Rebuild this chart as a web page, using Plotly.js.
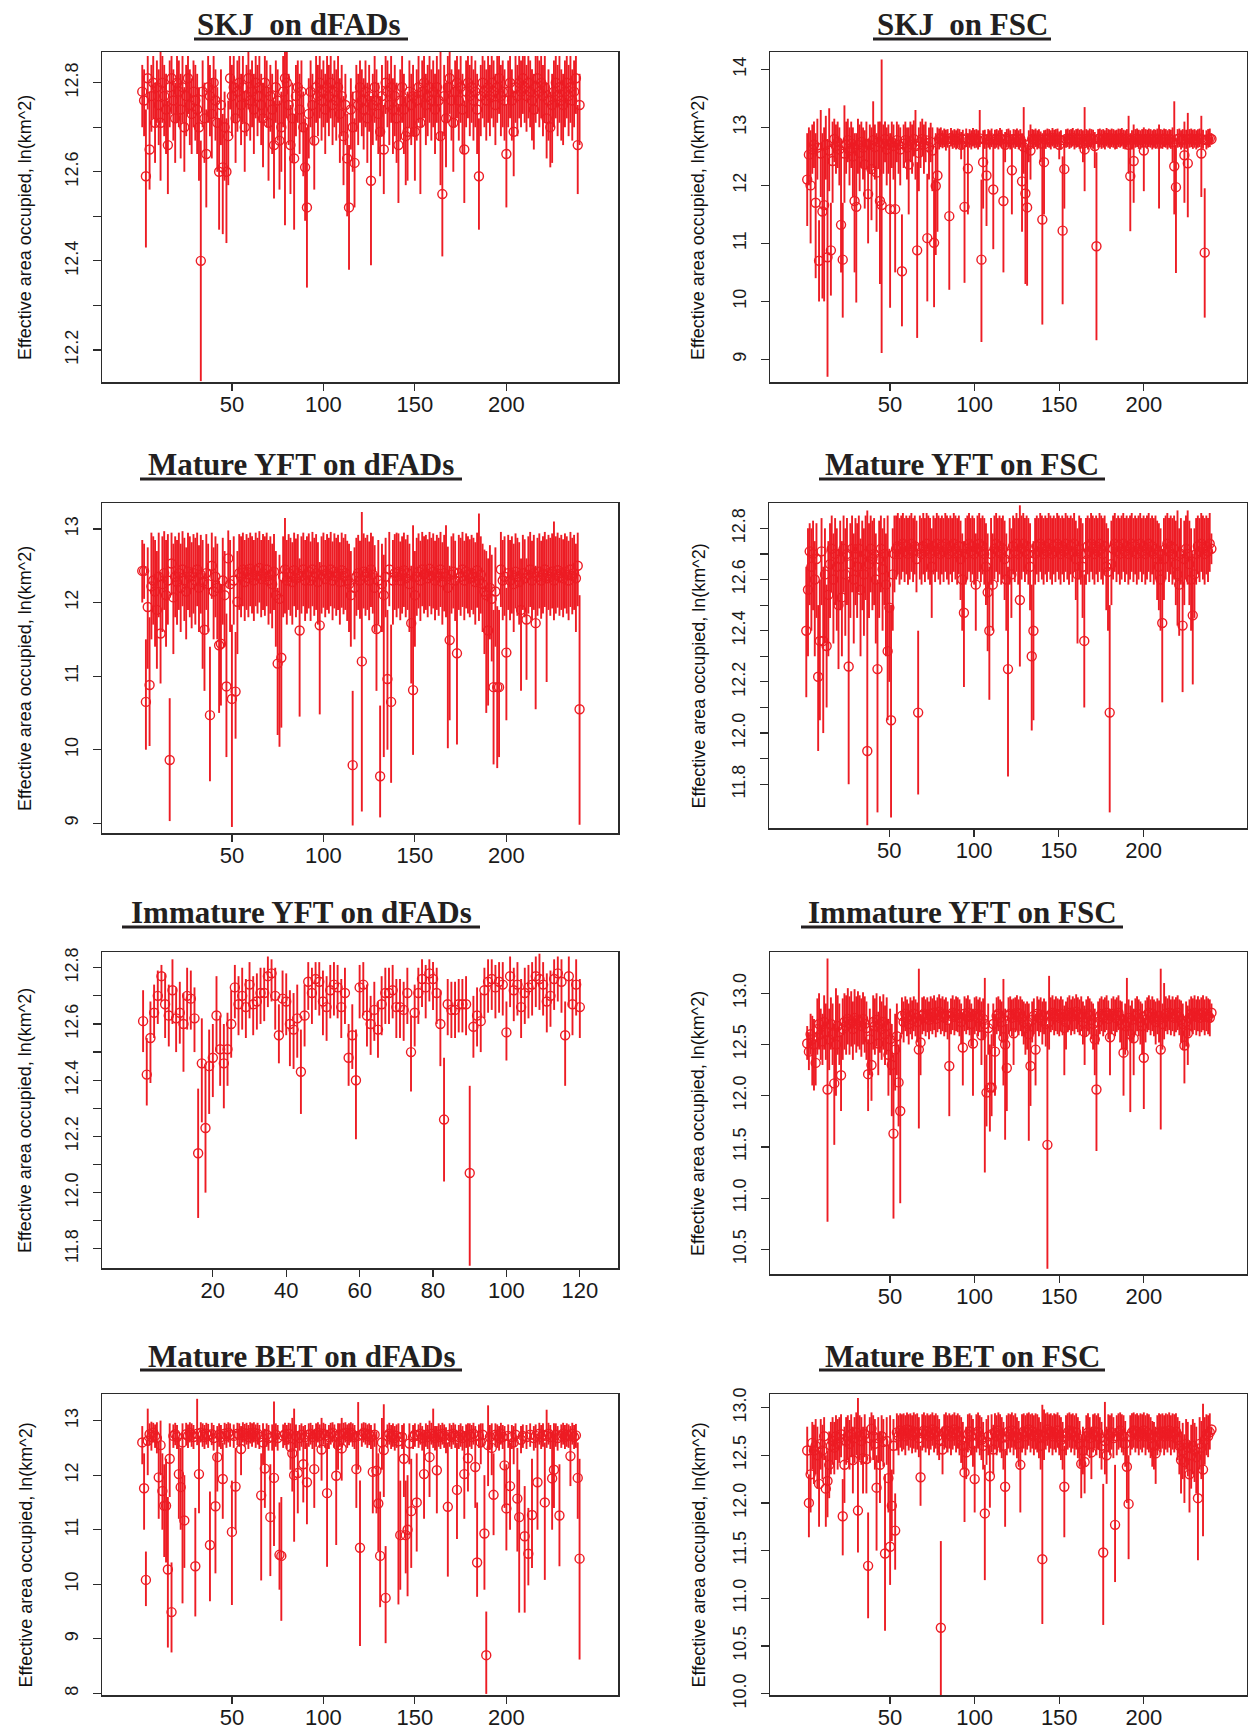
<!DOCTYPE html>
<html><head><meta charset="utf-8">
<script src="https://cdn.plot.ly/plotly-3.0.1.min.js"></script>
<style>html,body{margin:0;padding:0;background:#fff}#chart{width:1248px;height:1731px}</style>
</head><body><div id="chart"></div>
<script>
// ---------- SKJ on dFADs ----------
const skjDfadMean=[12.78,12.76,12.59,12.81,12.65,12.77,12.80,12.71,12.79,12.75,
12.71,12.80,12.77,12.74,12.66,12.79,12.81,12.76,12.72,12.80,
12.78,12.74,12.79,12.70,12.77,12.81,12.75,12.73,12.78,12.76,
12.74,12.70,12.40,12.78,12.72,12.64,12.79,12.77,12.73,12.80,
12.76,12.71,12.60,12.75,12.61,12.70,12.60,12.68,12.81,12.77,
12.79,12.72,12.78,12.80,12.75,12.79,12.70,12.77,12.81,12.76,
12.78,12.74,12.80,12.77,12.79,12.75,12.72,12.80,12.78,12.71,
12.77,12.74,12.66,12.79,12.76,12.67,12.70,12.78,12.81,12.80,
12.75,12.66,12.72,12.63,12.77,12.79,12.74,12.78,12.70,12.61,
12.52,12.73,12.78,12.75,12.67,12.79,12.77,12.80,12.76,12.78,
12.74,12.79,12.77,12.80,12.75,12.78,12.76,12.79,12.73,12.77,
12.68,12.75,12.63,12.52,12.74,12.70,12.62,12.77,12.75,12.79,
12.76,12.74,12.78,12.72,12.77,12.58,12.75,12.79,12.76,12.73,
12.69,12.77,12.65,12.80,12.78,12.75,12.79,12.74,12.77,12.72,
12.66,12.76,12.79,12.74,12.68,12.69,12.78,12.75,12.77,12.69,
12.76,12.79,12.71,12.78,12.80,12.75,12.77,12.79,12.76,12.78,
12.74,12.79,12.76,12.68,12.55,12.77,12.72,12.79,12.81,12.76,
12.71,12.78,12.80,12.76,12.79,12.74,12.65,12.78,12.80,12.77,
12.79,12.76,12.78,12.74,12.59,12.77,12.80,12.78,12.76,12.79,
12.77,12.80,12.78,12.75,12.79,12.81,12.77,12.78,12.76,12.64,
12.78,12.80,12.76,12.69,12.79,12.77,12.80,12.78,12.81,12.79,
12.77,12.80,12.78,12.76,12.74,12.79,12.81,12.78,12.80,12.77,
12.79,12.72,12.76,12.70,12.75,12.78,12.80,12.77,12.79,12.76,
12.75,12.78,12.80,12.77,12.79,12.76,12.78,12.81,12.66,12.75];
const skjDfadHi=[12.84,12.83,12.74,12.86,12.78,12.84,12.86,12.80,12.85,12.83,
12.87,12.86,12.84,12.82,12.76,12.85,12.86,12.83,12.80,12.86,
12.85,12.82,12.86,12.79,12.84,12.86,12.83,12.81,12.85,12.84,
12.82,12.79,12.67,12.85,12.80,12.74,12.86,12.84,12.81,12.86,
12.83,12.79,12.72,12.83,12.73,12.78,12.72,12.76,12.86,12.84,
12.86,12.80,12.85,12.86,12.82,12.86,12.78,12.84,12.87,12.83,
12.85,12.82,12.86,12.84,12.86,12.82,12.80,12.86,12.85,12.79,
12.84,12.82,12.76,12.85,12.83,12.76,12.78,12.86,12.87,12.87,
12.82,12.75,12.80,12.73,12.84,12.85,12.82,12.85,12.78,12.72,
12.70,12.81,12.85,12.82,12.76,12.86,12.84,12.86,12.83,12.85,
12.82,12.86,12.84,12.86,12.82,12.85,12.83,12.86,12.81,12.84,
12.77,12.82,12.73,12.66,12.81,12.78,12.72,12.84,12.82,12.85,
12.83,12.81,12.85,12.80,12.84,12.77,12.82,12.86,12.83,12.80,
12.77,12.84,12.75,12.86,12.85,12.82,12.86,12.81,12.84,12.80,
12.75,12.83,12.86,12.82,12.77,12.78,12.85,12.82,12.84,12.78,
12.83,12.86,12.79,12.85,12.86,12.82,12.84,12.86,12.83,12.85,
12.82,12.86,12.83,12.87,12.69,12.84,12.80,12.86,12.87,12.83,
12.79,12.85,12.86,12.83,12.86,12.82,12.76,12.85,12.86,12.84,
12.86,12.83,12.85,12.82,12.72,12.84,12.86,12.85,12.83,12.86,
12.84,12.86,12.85,12.82,12.86,12.86,12.84,12.85,12.83,12.75,
12.85,12.86,12.83,12.78,12.86,12.84,12.86,12.85,12.86,12.86,
12.84,12.86,12.85,12.83,12.82,12.86,12.86,12.85,12.86,12.84,
12.86,12.80,12.83,12.78,12.82,12.85,12.86,12.84,12.86,12.83,
12.82,12.85,12.86,12.84,12.86,12.83,12.85,12.86,12.75,12.82];
const skjDfadLo=[12.70,12.68,12.43,12.74,12.56,12.69,12.72,12.62,12.71,12.66,
12.58,12.71,12.68,12.64,12.55,12.70,12.73,12.67,12.62,12.71,
12.70,12.63,12.71,12.60,12.68,12.73,12.66,12.64,12.70,12.67,
12.64,12.58,12.13,12.70,12.62,12.52,12.71,12.68,12.63,12.72,
12.67,12.60,12.47,12.66,12.46,12.58,12.44,12.57,12.74,12.68,
12.71,12.62,12.69,12.72,12.66,12.71,12.60,12.68,12.74,12.67,
12.70,12.64,12.72,12.68,12.71,12.66,12.61,12.72,12.70,12.58,
12.69,12.64,12.54,12.71,12.67,12.56,12.60,12.70,12.48,12.72,
12.66,12.55,12.62,12.47,12.68,12.71,12.64,12.69,12.59,12.49,
12.34,12.63,12.70,12.66,12.56,12.71,12.68,12.72,12.67,12.70,
12.64,12.71,12.68,12.72,12.66,12.70,12.67,12.71,12.62,12.68,
12.57,12.66,12.50,12.38,12.65,12.60,12.52,12.69,12.66,12.71,
12.68,12.65,12.70,12.62,12.69,12.39,12.66,12.71,12.67,12.64,
12.59,12.68,12.55,12.73,12.70,12.66,12.71,12.64,12.68,12.62,
12.53,12.67,12.71,12.64,12.57,12.58,12.70,12.66,12.68,12.58,
12.67,12.71,12.55,12.70,12.72,12.66,12.68,12.71,12.67,12.70,
12.64,12.71,12.67,12.57,12.41,12.68,12.61,12.71,12.73,12.67,
12.60,12.70,12.72,12.67,12.71,12.64,12.53,12.70,12.72,12.68,
12.71,12.67,12.70,12.64,12.47,12.68,12.72,12.70,12.67,12.71,
12.68,12.72,12.70,12.66,12.71,12.73,12.68,12.70,12.67,12.52,
12.70,12.72,12.67,12.59,12.71,12.68,12.72,12.70,12.73,12.71,
12.69,12.72,12.70,12.67,12.65,12.71,12.73,12.70,12.72,12.68,
12.71,12.63,12.67,12.61,12.62,12.70,12.72,12.68,12.71,12.67,
12.66,12.70,12.72,12.68,12.71,12.67,12.70,12.73,12.55,12.66];

// ---------- SKJ on FSC ----------
const skjFscMean=[12.10,12.53,12.00,12.62,12.70,11.70,12.65,10.70,12.55,11.55,
11.66,12.70,10.76,12.60,10.88,12.42,12.80,12.68,12.75,12.62,
11.32,10.72,12.55,12.70,12.78,12.60,12.72,12.50,11.73,11.63,
12.70,12.56,12.75,12.65,12.36,12.72,11.85,12.70,12.28,12.78,
12.66,12.22,12.75,11.73,11.66,12.72,12.80,12.62,12.70,11.59,
12.75,12.68,11.59,12.78,12.70,12.62,10.52,12.72,12.78,12.65,
12.36,12.76,12.70,12.80,12.68,10.88,12.56,12.75,12.80,12.70,
12.78,11.09,12.66,12.75,12.60,11.01,11.99,12.17,12.80,12.82,
12.79,12.81,12.78,12.80,11.47,12.82,12.79,12.80,12.78,12.81,
12.80,12.70,12.79,11.63,12.81,12.29,12.80,12.78,12.82,12.79,
12.80,12.78,12.81,10.72,12.40,12.79,12.17,12.80,12.78,12.81,
11.93,12.79,12.80,12.78,12.82,12.79,11.73,12.70,12.80,12.81,
12.78,12.26,12.80,12.79,12.81,12.78,12.80,12.07,12.66,11.86,
11.62,12.70,12.60,12.80,12.79,12.81,12.78,12.80,12.72,11.41,
12.40,12.79,12.81,12.80,12.78,12.82,12.79,12.80,12.81,12.70,
12.78,11.22,12.28,12.80,12.81,12.79,12.80,12.82,12.78,12.80,
12.81,12.79,12.80,12.72,12.62,12.80,12.78,12.81,12.80,12.79,
12.68,10.95,12.80,12.81,12.79,12.80,12.78,12.82,12.80,12.79,
12.81,12.80,12.78,12.79,12.81,12.80,12.82,12.79,12.78,12.80,
12.70,12.16,12.78,12.42,12.80,12.81,12.79,12.78,12.80,12.60,
12.80,12.79,12.81,12.80,12.78,12.80,12.79,12.81,12.72,12.80,
12.79,12.81,12.80,12.78,12.80,12.79,12.75,12.33,11.97,12.80,
12.81,12.78,12.80,12.52,12.79,12.38,12.80,12.81,12.79,12.80,
12.78,12.80,12.81,12.55,12.79,10.84,12.78,12.80,12.81,12.80];
const skjFscHi=[12.90,13.00,12.95,13.05,13.10,12.90,13.15,11.40,13.30,12.90,
13.00,13.20,12.80,13.33,11.70,13.10,13.15,13.05,13.10,13.00,
12.80,11.70,13.38,13.10,13.15,13.00,13.10,13.00,12.90,12.90,
13.15,13.05,13.10,13.00,12.95,13.10,12.80,13.05,13.00,13.45,
13.05,12.90,13.10,13.10,14.17,13.05,13.10,13.00,13.05,12.90,
13.10,13.05,12.80,13.10,13.05,13.00,11.50,13.05,13.10,13.00,
13.00,13.10,13.05,13.12,13.30,12.40,13.00,13.10,13.15,13.05,
13.10,12.20,13.00,13.08,13.00,12.10,12.90,13.00,12.98,13.00,
12.95,12.98,12.96,12.97,12.70,12.99,12.95,12.97,12.95,12.98,
12.97,12.92,12.96,12.70,12.98,12.90,12.97,12.95,12.99,12.96,
12.97,12.95,13.30,12.10,12.95,12.96,12.85,12.97,12.95,12.98,
12.80,12.96,12.97,12.95,12.99,12.96,12.80,12.92,12.97,12.98,
12.95,12.80,12.97,12.96,12.98,12.95,12.97,12.90,13.35,12.80,
12.70,12.95,13.05,12.97,12.96,12.98,12.95,12.97,12.93,12.90,
12.95,12.96,12.98,12.97,12.95,12.99,12.96,12.97,12.98,12.93,
12.95,12.50,12.85,12.97,12.98,12.96,12.97,12.99,12.95,12.97,
12.98,12.96,12.97,12.95,13.35,12.97,12.95,12.98,12.97,12.96,
12.92,12.57,12.97,12.98,12.96,12.97,12.95,12.99,12.97,12.96,
12.98,12.97,12.95,12.96,12.98,12.97,12.99,12.96,12.95,12.97,
13.20,12.90,12.95,13.05,12.97,12.98,12.96,12.95,12.97,13.00,
12.97,12.96,12.98,12.97,12.95,12.97,12.96,12.98,13.05,12.97,
12.96,12.98,12.97,12.95,12.97,12.96,13.00,13.45,12.70,12.97,
12.98,12.95,12.97,13.10,12.96,13.25,12.97,12.98,12.96,12.97,
12.95,12.97,12.98,13.20,12.96,11.95,12.95,12.97,12.98,12.90];
const skjFscLo=[11.30,12.00,11.00,12.20,12.30,10.40,12.10,10.00,11.80,10.05,
10.00,12.10,8.70,11.90,10.10,11.70,12.40,12.20,12.30,12.00,
10.50,9.72,11.70,12.20,12.40,12.00,12.30,11.80,10.50,9.98,
12.20,11.90,12.30,12.10,11.60,12.30,11.00,12.20,11.40,12.30,
12.10,11.20,12.30,10.30,9.11,12.20,12.40,12.00,12.20,9.89,
12.30,12.10,10.50,12.40,12.20,12.00,9.57,12.30,12.40,12.10,
11.50,12.40,12.20,12.50,12.10,9.37,11.90,12.30,12.50,12.20,
12.40,10.00,12.10,12.40,11.90,9.90,10.80,11.20,12.62,12.66,
12.64,12.66,12.60,12.65,10.20,12.67,12.63,12.65,12.62,12.66,
12.64,12.45,12.63,10.32,12.66,11.50,12.65,12.62,12.67,12.64,
12.65,12.62,12.66,9.30,11.60,12.63,11.30,12.65,12.62,12.66,
10.90,12.63,12.65,12.62,12.67,12.64,10.50,12.40,12.65,12.66,
12.62,11.50,12.65,12.63,12.66,12.62,12.65,11.20,12.20,10.30,
10.27,12.40,12.10,12.65,12.63,12.66,12.62,12.65,12.40,9.60,
11.50,12.63,12.66,12.65,12.62,12.67,12.64,12.65,12.66,12.45,
12.62,9.95,11.60,12.65,12.66,12.63,12.65,12.67,12.62,12.65,
12.66,12.63,12.65,12.40,11.90,12.65,12.62,12.66,12.65,12.63,
12.30,9.33,12.65,12.66,12.63,12.65,12.62,12.67,12.65,12.63,
12.66,12.65,12.62,12.63,12.66,12.65,12.67,12.63,12.62,12.65,
12.20,11.21,12.62,11.70,12.65,12.66,12.63,12.62,12.65,11.90,
12.65,12.63,12.66,12.65,12.62,12.65,12.63,12.66,11.60,12.65,
12.63,12.66,12.65,12.62,12.65,12.63,12.40,11.50,10.49,12.65,
12.66,12.62,12.65,11.70,12.63,11.45,12.65,12.66,12.63,12.65,
12.62,12.65,12.66,11.80,12.63,9.72,12.62,12.65,12.66,12.70];

// ---------- Mature YFT on dFADs ----------
const myftDfadMean=[12.43,12.43,10.65,11.94,10.88,12.22,12.30,12.15,11.90,12.35,
11.58,12.25,12.40,12.10,12.30,9.86,12.53,12.07,12.35,12.28,
12.40,12.20,12.45,12.30,12.15,12.42,12.35,12.25,12.40,12.30,
12.45,12.20,12.38,12.28,11.63,12.40,12.25,10.47,12.50,12.15,
12.35,12.20,11.42,11.44,12.30,12.10,10.86,12.60,12.25,10.69,
12.30,10.79,12.01,12.40,12.35,12.45,12.28,12.42,12.33,12.46,
12.38,12.30,12.44,12.36,12.47,12.32,12.40,12.35,12.45,12.30,
12.38,12.25,12.42,12.10,11.17,12.05,11.25,12.35,12.45,12.30,
12.40,12.35,12.28,12.44,12.33,12.40,11.62,12.36,12.45,12.30,
12.38,12.42,12.30,12.45,12.35,12.40,12.28,11.69,12.38,12.44,
12.32,12.40,12.36,12.45,12.30,12.42,12.35,12.40,12.28,12.44,
12.36,12.40,12.30,12.25,12.10,9.79,12.20,12.35,12.40,12.30,
11.20,12.42,12.35,12.40,12.30,12.45,12.38,12.20,11.64,12.30,
9.64,12.25,12.10,12.35,10.96,12.45,10.65,12.30,12.40,12.35,
12.42,12.30,12.38,12.44,12.33,12.40,12.25,11.72,10.81,12.10,
12.35,12.42,12.30,12.45,12.38,12.40,12.33,12.46,12.36,12.42,
12.30,12.40,12.35,12.45,12.28,12.40,12.35,12.20,11.49,12.38,
12.42,12.30,11.31,12.40,12.35,12.45,12.30,12.42,12.38,12.33,
12.40,12.35,12.28,12.44,12.30,12.38,12.25,12.15,12.10,11.62,
12.20,12.05,10.85,12.15,10.85,10.85,12.45,12.30,12.35,11.32,
12.40,12.30,12.38,12.25,12.42,12.35,12.28,11.90,12.40,12.33,
11.77,12.38,12.45,12.30,12.40,11.72,12.35,12.42,12.30,12.38,
12.45,12.33,12.40,12.35,12.42,12.30,12.38,12.44,12.35,12.40,
12.33,12.42,12.38,12.30,12.45,12.36,12.40,12.33,12.50,10.55];
const myftDfadHi=[12.85,12.80,11.50,12.75,11.80,12.95,12.90,12.85,12.70,12.95,
12.40,12.90,12.97,12.85,12.93,10.70,12.95,12.80,12.90,12.85,
12.95,12.80,12.97,12.88,12.75,12.95,12.90,12.82,12.93,12.88,
12.95,12.78,12.92,12.85,12.40,12.93,12.80,11.40,12.95,12.75,
12.90,12.80,12.30,12.25,12.88,12.70,11.85,12.98,12.85,11.70,
12.90,11.60,12.70,12.93,12.90,12.95,12.85,12.93,12.88,12.95,
12.90,12.85,12.95,12.88,12.97,12.85,12.93,12.90,12.95,12.85,
12.90,12.80,12.93,12.70,12.20,12.65,12.30,12.90,13.15,12.85,
12.93,12.88,12.82,12.95,12.87,12.93,12.60,12.90,12.95,12.85,
12.90,12.94,12.83,12.96,12.88,12.93,12.82,12.55,12.90,12.95,
12.85,12.93,12.88,12.96,12.83,12.94,12.88,12.92,12.82,12.95,
12.88,12.93,12.84,12.80,12.70,10.80,12.75,12.88,12.92,12.84,
13.23,12.94,12.88,12.92,12.83,12.95,12.90,12.78,12.40,12.85,
10.60,12.80,12.65,12.88,11.90,12.96,11.70,12.85,12.93,12.95,
12.94,12.83,12.90,12.95,12.86,12.92,12.80,12.50,13.05,12.70,
12.88,12.94,12.84,12.96,12.90,12.92,12.86,12.96,12.88,12.94,
12.84,12.92,12.88,12.96,12.82,12.92,13.05,12.76,12.50,12.90,
12.94,12.84,12.30,12.92,12.88,12.96,12.84,12.94,12.90,12.86,
12.92,12.88,12.82,12.95,13.21,12.90,12.80,12.72,12.70,12.60,
12.78,12.65,11.90,12.75,11.95,11.90,12.96,12.85,12.90,12.20,
12.92,12.85,12.90,12.80,12.94,12.88,12.82,12.60,12.92,12.86,
12.60,12.90,12.96,12.84,12.92,12.50,12.88,12.94,12.84,12.90,
12.96,12.86,12.92,12.88,12.94,13.10,12.90,12.95,12.88,12.92,
12.86,12.94,12.90,12.84,12.96,12.88,12.92,12.80,12.95,12.10];
const myftDfadLo=[12.00,12.05,10.00,11.10,10.05,11.50,11.70,11.40,11.10,11.80,
10.90,11.60,11.90,11.40,11.70,9.03,12.10,11.30,11.80,11.70,
11.90,11.60,11.95,11.75,11.50,11.90,11.80,11.65,11.85,11.70,
11.95,11.60,11.85,11.10,10.80,11.90,11.60,9.57,12.05,11.50,
11.80,11.50,10.50,10.60,11.70,11.40,9.90,12.20,11.60,8.95,
11.70,10.15,11.30,11.90,11.80,11.95,11.75,11.90,11.80,11.95,
11.85,11.75,11.95,11.85,12.00,11.80,11.90,11.82,11.95,11.70,
11.85,11.65,11.90,11.40,10.20,10.04,10.30,11.80,11.85,11.70,
11.90,11.82,11.70,11.95,11.80,11.90,10.45,11.85,11.95,11.75,
11.85,11.92,11.75,11.95,11.82,11.90,11.70,10.48,11.85,11.93,
11.80,11.90,11.85,11.95,11.76,11.92,11.82,11.90,11.70,11.93,
11.84,11.90,11.75,11.60,11.40,8.97,11.50,11.82,11.90,11.78,
9.16,11.92,11.82,11.90,11.76,11.94,11.85,11.60,10.80,11.70,
9.08,11.60,9.90,11.80,10.00,11.95,9.55,11.70,11.90,11.80,
11.92,11.76,11.85,11.94,11.80,11.90,11.60,10.90,9.93,11.40,
11.82,11.92,11.75,11.95,11.85,11.90,11.80,11.95,11.84,11.92,
11.76,11.90,11.82,11.94,11.70,11.88,11.80,10.02,10.40,11.85,
11.92,11.75,10.07,11.90,11.82,11.94,11.76,11.92,11.85,11.80,
11.90,11.84,11.70,11.93,11.75,11.85,11.60,11.30,10.50,10.60,
11.50,11.20,9.80,11.40,9.75,9.90,11.94,11.76,11.82,10.40,
11.90,11.76,11.85,11.60,11.92,11.82,11.70,10.80,11.90,11.80,
10.95,11.85,11.94,11.76,11.90,10.55,11.82,11.92,11.78,11.85,
11.94,10.92,11.90,11.82,11.92,11.76,11.85,11.93,11.82,11.90,
11.80,11.92,11.85,11.76,11.94,11.84,11.90,11.60,11.95,8.98];

// ---------- Mature YFT on FSC ----------
const myftFscMean=[12.40,12.56,12.71,12.65,12.70,12.60,12.68,12.22,12.36,12.71,
12.36,12.62,12.34,12.54,12.66,12.72,12.60,12.70,12.65,12.50,
12.68,12.53,12.72,12.62,12.70,12.26,12.66,12.72,12.60,12.70,
12.65,12.72,12.56,12.68,12.62,12.70,11.93,12.66,12.72,12.68,
12.70,12.60,12.25,12.68,12.72,12.64,12.70,12.58,12.32,12.49,
12.05,12.62,12.70,12.72,12.73,12.70,12.72,12.74,12.71,12.73,
12.70,12.72,12.74,12.71,12.73,12.68,12.08,12.72,12.70,12.73,
12.71,12.74,12.72,12.70,12.65,12.73,12.71,12.74,12.72,12.70,
12.73,12.71,12.74,12.72,12.70,12.73,12.71,12.74,12.72,12.70,
12.73,12.68,12.60,12.47,12.70,12.72,12.74,12.71,12.73,12.70,
12.58,12.72,12.74,12.71,12.73,12.70,12.65,12.55,12.40,12.70,
12.58,12.72,12.74,12.71,12.73,12.70,12.72,12.68,12.60,12.25,
12.70,12.62,12.73,12.71,12.74,12.70,12.52,12.72,12.74,12.71,
12.73,12.70,12.65,12.30,12.40,12.70,12.73,12.71,12.74,12.72,
12.70,12.73,12.71,12.74,12.72,12.70,12.73,12.71,12.74,12.72,
12.70,12.73,12.71,12.74,12.72,12.70,12.73,12.71,12.74,12.68,
12.62,12.72,12.70,12.65,12.36,12.70,12.73,12.71,12.74,12.72,
12.70,12.73,12.71,12.74,12.72,12.70,12.73,12.65,12.63,12.08,
12.66,12.72,12.74,12.71,12.73,12.70,12.72,12.74,12.71,12.73,
12.70,12.72,12.74,12.71,12.73,12.70,12.72,12.74,12.71,12.73,
12.70,12.72,12.74,12.71,12.73,12.70,12.72,12.68,12.65,12.60,
12.43,12.68,12.72,12.74,12.71,12.73,12.70,12.72,12.66,12.62,
12.58,12.70,12.42,12.68,12.72,12.70,12.66,12.60,12.46,12.62,
12.70,12.73,12.71,12.74,12.72,12.70,12.73,12.71,12.74,12.72];
const myftFscHi=[12.65,12.80,12.82,12.80,12.83,12.75,12.82,12.50,12.60,12.84,
12.65,12.80,12.58,12.75,12.82,12.85,12.78,12.84,12.80,12.72,
12.83,12.75,12.85,12.80,12.84,12.60,12.82,12.85,12.78,12.84,
12.82,12.85,12.76,12.83,12.80,12.85,12.87,12.82,12.85,12.83,
12.84,12.78,12.60,12.83,12.85,12.80,12.84,12.78,12.85,12.72,
12.50,12.80,12.85,12.85,12.86,12.84,12.85,12.86,12.84,12.85,
12.84,12.85,12.86,12.84,12.85,12.83,12.40,12.85,12.84,12.86,
12.84,12.86,12.85,12.84,12.80,12.85,12.84,12.86,12.85,12.84,
12.85,12.84,12.86,12.85,12.84,12.85,12.84,12.86,12.85,12.84,
12.85,12.83,12.78,12.75,12.84,12.85,12.86,12.84,12.85,12.84,
12.78,12.85,12.86,12.84,12.85,12.84,12.82,12.78,12.65,12.84,
12.78,12.85,12.86,12.84,12.85,12.84,12.85,12.83,12.78,12.65,
12.84,12.80,12.85,12.84,12.86,12.84,12.89,12.85,12.86,12.84,
12.85,12.84,12.82,12.58,12.75,12.84,12.85,12.84,12.86,12.85,
12.84,12.85,12.84,12.86,12.85,12.84,12.85,12.84,12.86,12.85,
12.84,12.85,12.84,12.86,12.85,12.84,12.85,12.84,12.86,12.83,
12.80,12.85,12.84,12.82,12.62,12.84,12.85,12.84,12.86,12.85,
12.84,12.85,12.84,12.86,12.85,12.84,12.85,12.82,12.80,12.50,
12.83,12.85,12.86,12.84,12.85,12.84,12.85,12.86,12.84,12.85,
12.84,12.85,12.86,12.84,12.85,12.84,12.85,12.86,12.84,12.85,
12.84,12.85,12.86,12.84,12.85,12.84,12.85,12.83,12.82,12.80,
12.72,12.84,12.85,12.86,12.84,12.85,12.84,12.85,12.83,12.87,
12.80,12.84,12.70,12.83,12.85,12.87,12.83,12.80,12.70,12.80,
12.84,12.85,12.84,12.86,12.85,12.84,12.85,12.84,12.86,12.78];
const myftFscLo=[12.14,12.30,12.50,12.40,12.48,12.30,12.45,11.93,12.05,12.50,
12.00,12.35,12.10,12.30,12.45,12.55,12.35,12.50,12.40,12.25,
12.48,12.30,12.55,12.38,12.50,11.80,12.45,12.55,12.35,12.50,
12.45,12.55,12.30,12.48,12.38,12.52,11.64,12.45,12.55,12.48,
12.50,12.35,11.69,12.45,12.55,12.40,12.50,12.30,12.05,12.20,
11.67,12.40,12.55,12.60,12.62,12.58,12.60,12.63,12.59,12.62,
12.58,12.60,12.63,12.59,12.62,12.55,11.76,12.60,12.58,12.62,
12.59,12.63,12.60,12.58,12.45,12.62,12.59,12.63,12.60,12.58,
12.62,12.59,12.63,12.60,12.58,12.62,12.59,12.63,12.60,12.58,
12.62,12.52,12.40,12.18,12.58,12.60,12.63,12.59,12.62,12.58,
12.40,12.60,12.63,12.59,12.62,12.58,12.50,12.32,12.13,12.58,
12.40,12.60,12.63,12.59,12.62,12.58,12.60,12.52,12.40,11.83,
12.58,12.45,12.62,12.59,12.63,12.58,12.26,12.60,12.63,12.59,
12.62,12.58,12.48,12.01,12.05,12.58,12.62,12.59,12.63,12.60,
12.58,12.62,12.59,12.63,12.60,12.58,12.62,12.59,12.63,12.60,
12.58,12.62,12.59,12.63,12.60,12.58,12.62,12.59,12.63,12.52,
12.35,12.60,12.58,12.45,12.10,12.58,12.62,12.59,12.63,12.60,
12.58,12.62,12.59,12.63,12.60,12.58,12.62,12.48,12.40,11.69,
12.50,12.60,12.63,12.59,12.62,12.58,12.60,12.63,12.59,12.62,
12.58,12.60,12.63,12.59,12.62,12.58,12.60,12.63,12.59,12.62,
12.58,12.60,12.63,12.59,12.62,12.58,12.60,12.52,12.48,12.40,
12.12,12.52,12.60,12.63,12.59,12.62,12.58,12.60,12.50,12.42,
12.38,12.58,12.16,12.50,12.60,12.58,12.50,12.40,12.19,12.45,
12.58,12.62,12.59,12.63,12.60,12.58,12.62,12.59,12.63,12.66];

// ---------- Immature YFT on dFADs (120 points) ----------
const iyftDfadMean=[12.61,12.42,12.55,12.64,12.70,12.77,12.67,12.63,12.72,12.62,
12.64,12.60,12.70,12.69,12.62,12.14,12.46,12.23,12.45,12.48,
12.63,12.51,12.46,12.51,12.60,12.73,12.67,12.70,12.66,12.74,
12.67,12.68,12.71,12.71,12.77,12.78,12.70,12.56,12.69,12.68,
12.60,12.58,12.62,12.43,12.63,12.75,12.71,12.76,12.75,12.68,
12.66,12.72,12.74,12.73,12.66,12.71,12.48,12.56,12.40,12.73,
12.74,12.63,12.60,12.65,12.58,12.67,12.71,12.71,12.72,12.66,
12.66,12.65,12.71,12.50,12.64,12.71,12.76,12.73,12.78,12.76,
12.71,12.60,12.26,12.67,12.65,12.65,12.67,12.67,12.67,12.07,
12.59,12.63,12.61,12.72,12.75,12.76,12.73,12.75,12.74,12.57,
12.77,12.72,12.74,12.66,12.71,12.73,12.74,12.77,12.76,12.74,
12.68,12.70,12.76,12.78,12.75,12.56,12.77,12.67,12.74,12.66];
const iyftDfadHi=[12.72,12.55,12.68,12.74,12.79,12.81,12.78,12.74,12.83,12.73,
12.75,12.71,12.80,12.79,12.73,12.37,12.62,12.45,12.58,12.60,
12.77,12.63,12.60,12.64,12.72,12.81,12.77,12.80,12.76,12.82,
12.77,12.78,12.80,12.80,12.84,12.83,12.80,12.67,12.79,12.78,
12.72,12.71,12.74,12.58,12.74,12.82,12.80,12.82,12.82,12.79,
12.77,12.81,12.82,12.81,12.76,12.80,12.60,12.67,12.58,12.81,
12.82,12.74,12.70,12.75,12.68,12.77,12.80,12.80,12.81,12.76,
12.76,12.75,12.80,12.63,12.74,12.80,12.83,12.81,12.83,12.82,
12.80,12.72,12.48,12.76,12.75,12.75,12.76,12.76,12.77,12.38,
12.70,12.73,12.71,12.80,12.83,12.83,12.81,12.82,12.82,12.68,
12.84,12.80,12.82,12.76,12.80,12.81,12.82,12.84,12.85,12.82,
12.78,12.79,12.83,12.84,12.83,12.68,12.84,12.76,12.83,12.76];
const iyftDfadLo=[12.50,12.31,12.39,12.55,12.60,12.68,12.55,12.52,12.60,12.50,
12.53,12.43,12.58,12.58,12.50,11.91,12.25,12.00,12.28,12.34,
12.50,12.38,12.30,12.38,12.48,12.62,12.56,12.58,12.55,12.62,
12.56,12.58,12.60,12.61,12.66,12.68,12.58,12.46,12.57,12.56,
12.45,12.44,12.48,12.28,12.52,12.65,12.60,12.65,12.63,12.56,
12.54,12.62,12.63,12.62,12.55,12.60,12.38,12.44,12.19,12.62,
12.63,12.52,12.49,12.54,12.48,12.56,12.60,12.60,12.62,12.55,
12.55,12.54,12.60,12.36,12.52,12.60,12.66,12.62,12.68,12.65,
12.60,12.45,12.04,12.56,12.55,12.55,12.57,12.57,12.56,11.74,
12.48,12.52,12.50,12.62,12.64,12.65,12.62,12.64,12.63,12.47,
12.66,12.61,12.63,12.55,12.60,12.62,12.63,12.66,12.65,12.63,
12.57,12.59,12.65,12.68,12.64,12.38,12.66,12.56,12.63,12.55];

// ---------- Immature YFT on FSC ----------
const iyftFscMean=[12.51,12.43,12.60,12.55,12.50,12.32,12.65,12.70,12.60,12.53,
12.72,12.62,12.06,12.55,12.70,12.60,12.12,12.50,12.68,12.62,
12.20,12.65,12.72,12.68,12.75,12.70,12.73,12.65,12.76,12.70,
12.74,12.72,12.68,12.75,12.70,12.66,12.21,12.55,12.30,12.72,
12.68,12.74,12.51,12.70,12.65,12.72,12.60,12.68,12.40,12.55,
12.30,11.63,12.45,12.58,12.13,11.85,12.78,12.72,12.80,12.76,
12.70,12.78,12.74,12.80,12.76,12.72,12.45,12.52,12.78,12.80,
12.76,12.79,12.74,12.80,12.77,12.81,12.75,12.79,12.82,12.78,
12.80,12.76,12.79,12.74,12.29,12.78,12.81,12.77,12.80,12.79,
12.76,12.72,12.47,12.80,12.78,12.81,12.77,12.70,12.51,12.78,
12.80,12.76,12.79,12.59,12.75,12.70,12.03,12.66,12.08,12.08,
12.70,12.43,12.78,12.80,12.76,12.72,12.57,12.50,12.27,12.78,
12.80,12.76,12.61,12.79,12.81,12.77,12.80,12.76,12.72,12.66,
12.70,12.60,12.29,12.74,12.78,12.45,12.80,12.76,12.79,12.73,
12.78,12.70,11.52,12.72,12.79,12.81,12.77,12.80,12.78,12.76,
12.80,12.77,12.66,12.72,12.79,12.81,12.77,12.80,12.78,12.82,
12.79,12.77,12.80,12.72,12.62,12.76,12.80,12.78,12.74,12.70,
12.55,12.06,12.72,12.78,12.80,12.76,12.79,12.81,12.75,12.57,
12.78,12.80,12.76,12.79,12.81,12.74,12.70,12.42,12.68,12.72,
12.76,12.60,12.74,12.56,12.78,12.80,12.76,12.72,12.68,12.37,
12.74,12.79,12.81,12.77,12.80,12.76,12.72,12.78,12.74,12.45,
12.70,12.76,12.80,12.78,12.81,12.77,12.80,12.76,12.79,12.81,
12.77,12.74,12.70,12.49,12.72,12.61,12.76,12.80,12.78,12.81,
12.77,12.80,12.76,12.79,12.81,12.77,12.80,12.78,12.76,12.81];
const iyftFscHi=[12.68,12.62,12.80,12.78,12.75,12.55,12.95,13.00,12.85,12.80,
12.98,12.90,13.34,12.85,12.96,12.90,12.70,13.05,12.98,12.90,
12.60,12.95,13.00,12.98,13.05,12.97,13.02,12.92,13.04,12.97,
13.02,12.98,12.95,13.01,12.97,12.92,12.55,12.85,12.65,12.98,
12.95,13.00,12.82,12.97,12.92,12.99,12.88,12.96,12.75,12.85,
12.70,12.40,12.80,12.90,12.50,12.60,12.96,12.92,12.97,12.94,
12.90,12.96,12.93,12.97,12.94,12.91,13.24,12.80,12.96,12.97,
12.94,12.96,12.92,12.97,12.95,12.98,12.93,12.96,12.99,12.95,
12.97,12.94,12.96,12.92,12.70,12.95,12.98,12.94,12.97,12.96,
12.94,12.90,12.80,12.97,12.95,12.98,12.94,12.90,12.85,12.96,
12.97,12.94,12.96,12.92,12.95,13.15,12.40,12.90,12.50,12.60,
12.90,12.80,12.96,12.97,12.94,12.92,13.14,12.85,12.70,12.96,
12.97,12.94,12.95,12.96,12.98,12.94,12.97,12.94,12.92,12.90,
12.92,12.90,12.70,12.92,12.95,12.80,12.97,12.94,12.96,12.92,
12.95,12.92,12.70,13.17,12.96,12.98,12.94,12.97,12.95,12.94,
12.97,12.94,12.88,12.92,12.96,12.98,12.94,12.97,12.95,12.99,
12.96,12.94,12.97,12.92,12.88,12.94,12.97,12.95,12.92,12.90,
12.85,12.65,12.92,12.95,12.97,12.94,12.96,12.98,12.93,12.85,
12.95,12.97,12.94,12.96,12.98,12.93,12.92,12.80,12.90,13.15,
12.94,12.88,12.93,12.85,12.95,12.97,12.94,12.92,12.90,12.75,
12.93,12.96,12.98,12.94,12.97,12.94,12.92,12.95,12.93,13.24,
12.90,13.10,12.97,12.95,12.98,12.94,12.97,12.94,12.96,12.98,
12.94,12.93,12.90,12.75,12.92,12.88,12.94,12.97,12.95,12.98,
12.94,12.97,12.94,12.96,12.98,12.94,12.97,12.95,12.94,12.90];
const iyftFscLo=[12.35,12.25,12.40,12.10,12.05,12.10,12.40,12.45,12.35,12.30,
12.45,12.35,10.77,12.25,12.45,12.30,11.52,12.00,12.40,12.30,
11.85,12.35,12.45,12.40,12.50,12.40,12.48,12.35,12.50,12.42,
12.48,12.45,12.38,12.50,12.42,12.35,11.85,12.20,11.95,12.45,
12.40,12.48,12.20,12.42,12.35,12.45,12.30,12.40,12.00,12.20,
11.80,10.80,12.05,12.20,11.70,10.95,12.60,12.52,12.63,12.58,
12.50,12.60,12.55,12.63,12.58,12.52,11.68,12.20,12.60,12.63,
12.58,12.62,12.55,12.63,12.60,12.64,12.57,12.62,12.65,12.60,
12.63,12.58,12.62,12.55,11.80,12.60,12.64,12.59,12.63,12.62,
12.58,12.50,12.10,12.63,12.60,12.64,12.59,12.48,12.00,12.60,
12.63,12.58,12.62,12.30,12.55,11.25,11.70,12.40,11.65,11.80,
12.48,12.00,12.60,12.63,12.58,12.52,12.10,11.57,11.85,12.60,
12.63,12.58,12.30,12.62,12.64,12.59,12.63,12.58,12.50,12.40,
12.45,11.56,11.90,12.52,12.60,12.10,12.63,12.58,12.62,12.50,
12.60,12.48,10.31,12.45,12.62,12.64,12.59,12.63,12.60,12.58,
12.63,12.59,12.20,12.45,12.62,12.64,12.59,12.63,12.60,12.65,
12.62,12.59,12.63,12.50,12.30,12.58,12.63,12.60,12.55,12.45,
12.20,11.46,12.50,12.60,12.63,12.58,12.62,12.64,12.55,12.20,
12.60,12.63,12.58,12.62,12.64,12.52,12.45,12.00,12.40,12.45,
12.58,11.84,12.52,12.20,12.60,12.63,12.58,12.50,12.40,11.87,
12.52,12.62,12.64,12.59,12.63,12.58,12.50,12.60,12.52,11.67,
12.45,12.55,12.63,12.60,12.64,12.59,12.63,12.58,12.62,12.64,
12.59,12.52,12.45,12.12,12.48,12.30,12.58,12.63,12.60,12.64,
12.59,12.63,12.58,12.62,12.64,12.59,12.63,12.60,12.58,12.72];

// ---------- Mature BET on dFADs ----------
const mbetDfadMean=[12.60,11.76,10.08,12.63,12.75,12.70,12.78,12.72,12.68,11.96,
12.55,11.71,11.44,11.44,10.27,12.30,9.49,12.72,12.75,12.70,
12.02,11.78,12.60,11.17,12.75,12.72,12.78,12.74,12.70,10.33,
12.76,12.02,12.78,12.74,12.70,12.76,12.72,10.72,12.75,12.68,
11.43,12.33,12.74,12.70,11.93,12.76,12.72,12.78,12.74,10.96,
12.72,11.79,12.76,12.74,12.48,12.78,12.73,12.76,12.70,12.77,
12.74,12.78,12.72,12.76,12.70,11.63,12.60,12.12,12.74,12.68,
11.23,12.70,11.95,12.74,12.68,10.54,10.52,12.72,12.75,12.70,
12.76,12.52,12.40,12.00,12.72,12.04,12.68,12.74,12.20,12.70,
11.87,12.74,12.76,12.70,12.11,12.74,12.78,12.72,12.47,12.76,
12.73,11.67,12.70,12.76,12.78,12.72,11.99,12.55,12.74,12.49,
12.76,12.78,12.72,12.75,12.78,12.74,12.70,12.11,12.72,10.67,
12.74,12.78,12.76,12.72,12.75,12.70,12.06,12.74,12.08,11.48,
10.52,12.60,12.46,9.75,12.72,12.76,12.70,12.74,12.68,12.72,
12.62,10.90,12.70,12.30,10.90,11.00,12.58,11.34,12.70,12.74,
11.50,12.72,12.76,12.68,12.02,12.74,12.70,12.33,12.76,12.72,
12.68,12.09,12.74,12.70,12.76,12.72,12.66,11.42,12.74,12.70,
12.76,12.72,11.73,12.70,12.74,12.68,12.02,12.72,12.31,12.74,
12.70,12.76,12.15,10.40,12.72,12.60,12.74,10.93,8.70,12.55,
12.70,12.50,11.64,12.74,12.72,12.68,12.76,12.70,12.18,11.39,
12.72,11.80,12.70,12.60,12.74,11.57,11.23,12.65,12.72,10.88,
12.70,10.56,12.74,11.27,12.68,12.72,11.87,12.76,12.70,12.74,
11.50,12.72,12.76,12.70,11.94,12.10,12.74,12.68,11.26,12.72,
12.76,12.70,12.74,12.72,12.35,12.76,12.70,12.73,11.95,10.47];
const mbetDfadHi=[12.90,12.40,10.60,13.22,12.95,12.98,12.96,12.93,12.97,12.60,
13.00,12.40,12.20,12.30,11.60,12.95,10.40,12.93,12.96,12.92,
12.70,12.50,12.95,12.00,12.96,12.93,12.97,12.95,12.92,11.40,
13.40,12.70,12.97,12.95,12.92,12.96,12.94,11.70,12.96,12.92,
12.40,12.90,12.95,12.92,12.60,12.96,12.94,12.97,12.95,11.90,
12.93,12.50,12.96,12.95,12.90,12.97,12.94,12.96,12.92,12.97,
12.95,12.97,12.93,12.96,12.92,12.40,12.95,12.85,12.95,12.92,
12.20,12.93,13.35,12.95,12.92,11.50,11.60,12.93,12.96,12.92,
12.96,12.95,13.05,13.22,12.93,12.80,12.92,12.95,12.90,12.92,
12.60,12.95,12.96,12.92,12.80,12.95,12.97,12.93,13.05,12.96,
12.94,12.60,12.92,12.96,12.97,12.93,12.70,12.95,12.95,13.05,
12.96,12.97,12.93,12.95,12.97,12.95,12.92,12.80,13.34,11.90,
12.95,12.97,12.96,12.93,12.95,12.92,12.75,12.95,12.80,12.40,
11.70,13.05,13.30,10.70,12.93,12.96,12.92,12.95,12.90,12.93,
12.95,11.90,12.92,12.95,11.90,12.00,12.95,12.30,12.92,12.95,
12.40,12.93,12.96,12.90,12.80,12.95,12.92,13.00,12.96,13.22,
12.90,12.90,12.95,12.92,12.96,12.93,12.88,12.60,12.95,12.92,
12.96,12.93,12.60,12.92,12.95,12.90,12.80,12.93,12.95,12.95,
12.92,12.96,12.90,11.50,12.93,12.95,12.95,12.00,9.50,13.28,
12.92,12.95,12.40,12.95,12.93,12.90,12.96,12.92,12.90,12.20,
12.93,12.60,12.92,12.90,12.95,12.50,12.10,12.90,12.93,11.80,
12.92,11.40,12.95,12.30,12.90,12.93,12.70,12.96,12.92,12.95,
12.60,13.20,12.96,12.92,12.80,12.95,12.95,12.90,12.20,12.93,
12.96,12.92,12.95,12.93,12.90,12.96,12.92,12.94,12.60,12.30];
const mbetDfadLo=[12.20,11.00,9.60,12.00,12.55,12.45,12.60,12.50,12.40,11.20,
12.00,11.00,10.50,10.40,8.84,11.60,8.75,12.50,12.55,12.48,
11.20,11.00,9.65,10.30,12.55,12.50,12.60,12.52,12.48,9.41,
12.55,11.30,12.60,12.52,12.48,12.56,12.50,9.69,12.55,12.45,
10.20,11.70,12.52,12.48,11.20,12.56,12.50,12.60,12.52,9.62,
12.50,11.00,12.55,12.52,12.00,12.60,12.52,12.56,12.48,12.58,
12.52,12.60,12.50,12.56,12.48,10.07,12.20,11.40,12.52,12.45,
10.15,12.45,10.70,12.52,12.45,9.90,9.33,12.50,12.55,12.48,
12.56,12.10,11.70,10.78,12.50,11.30,12.45,12.52,11.50,12.48,
11.10,12.52,12.56,12.48,11.40,12.52,12.60,12.50,11.90,12.56,
12.50,10.32,12.48,12.56,12.60,12.50,10.72,12.10,12.52,11.90,
12.56,12.60,12.50,12.55,12.60,12.52,12.48,11.40,12.10,8.87,
12.52,12.60,12.56,12.50,12.55,12.48,11.30,12.52,11.30,10.60,
9.58,12.10,11.60,8.92,12.50,12.56,12.48,12.52,12.45,12.50,
9.63,9.90,12.48,11.60,10.20,9.78,12.20,10.30,12.48,12.52,
10.60,12.50,12.56,12.45,11.20,12.52,12.48,11.60,12.56,12.50,
12.45,11.30,12.52,12.48,12.56,12.50,12.40,10.14,12.52,12.48,
12.56,12.50,10.83,12.48,12.52,12.45,11.20,12.50,11.70,12.52,
12.48,12.56,11.40,9.77,12.50,12.20,12.52,9.90,7.99,11.80,
12.48,12.00,10.90,12.52,12.50,12.45,12.56,12.48,11.40,10.62,
12.50,11.00,12.48,12.20,12.52,10.60,9.48,12.40,12.50,9.48,
12.48,9.98,12.52,10.30,12.45,12.50,11.00,12.56,12.48,12.52,
10.08,12.50,12.56,12.48,11.00,11.40,12.52,12.45,10.33,12.50,
12.56,12.48,12.52,12.50,11.80,12.56,12.48,12.50,11.20,8.62];

// ---------- Mature BET on FSC ----------
const mbetFscMean=[12.55,12.00,12.30,12.63,12.55,12.60,12.50,12.20,12.62,12.55,
12.70,12.15,12.23,12.40,12.60,12.65,12.58,12.70,12.62,12.68,
12.72,11.86,12.40,12.65,12.70,12.62,12.72,12.45,12.68,12.74,
11.92,12.70,12.65,12.47,12.72,12.46,11.34,12.68,12.78,12.70,
12.62,12.16,12.68,12.40,12.70,12.64,11.47,12.65,12.26,11.54,
11.97,12.60,11.71,12.74,12.70,12.76,12.72,12.75,12.70,12.77,
12.73,12.76,12.71,12.75,12.72,12.74,12.68,12.27,12.73,12.76,
12.72,12.75,12.70,12.74,12.77,12.72,12.75,12.70,12.66,10.69,
12.56,12.74,12.76,12.72,12.75,12.70,12.74,12.77,12.72,12.75,
12.70,12.66,12.60,12.32,12.53,12.72,12.75,12.70,12.62,12.25,
12.72,12.75,12.70,12.66,12.60,11.89,12.64,12.70,12.28,12.72,
12.56,12.74,12.70,12.76,12.72,12.68,12.60,12.17,12.70,12.75,
12.72,12.76,12.70,12.74,12.68,12.62,12.40,12.72,12.75,12.70,
12.74,12.77,12.72,12.75,12.70,12.74,12.72,12.68,12.60,11.41,
12.70,12.74,12.77,12.72,12.75,12.70,12.74,12.72,12.76,12.70,
12.66,12.60,12.17,12.70,12.74,12.76,12.72,12.75,12.70,12.74,
12.68,12.62,12.41,12.55,12.43,12.70,12.74,12.68,12.53,12.72,
12.75,12.70,12.74,12.68,12.60,11.48,12.65,12.50,12.72,12.70,
12.74,12.68,11.77,12.70,12.74,12.76,12.72,12.70,12.62,12.38,
11.99,12.70,12.74,12.76,12.72,12.75,12.70,12.74,12.72,12.76,
12.70,12.74,12.72,12.68,12.62,12.60,12.52,12.70,12.74,12.72,
12.75,12.70,12.74,12.72,12.76,12.70,12.74,12.72,12.75,12.66,
12.60,12.45,12.55,12.43,12.62,12.58,12.30,12.50,12.60,12.55,
12.48,12.05,12.62,12.58,12.35,12.66,12.72,12.70,12.74,12.77];
const mbetFscHi=[12.80,12.30,12.60,12.85,12.82,12.88,12.80,12.55,12.88,12.82,
12.90,12.50,12.55,12.75,12.85,12.90,12.85,12.92,12.88,12.90,
12.93,12.25,12.80,12.90,12.92,12.87,12.93,12.80,12.90,12.95,
13.10,12.92,12.90,12.80,12.93,12.80,11.90,12.90,12.95,12.92,
12.88,12.50,12.90,12.75,12.92,12.88,12.30,12.90,12.60,12.92,
12.35,12.88,12.10,12.94,12.92,12.94,12.93,12.94,12.92,12.95,
12.93,12.94,12.92,12.95,12.93,12.94,12.90,12.60,12.93,12.95,
12.92,12.94,12.92,12.93,12.95,12.92,12.94,12.92,12.88,11.60,
12.80,12.93,12.95,12.92,12.94,12.92,12.93,12.95,12.92,12.94,
12.92,12.90,12.85,12.65,12.80,12.93,12.94,12.92,12.88,12.60,
12.93,12.95,12.92,12.90,12.85,12.40,12.88,12.92,12.60,12.93,
12.82,12.94,12.92,12.95,12.93,12.90,12.85,12.55,12.92,12.94,
12.93,12.95,12.92,12.94,12.90,12.86,12.75,12.93,12.94,12.92,
12.94,12.95,12.93,12.94,12.92,12.94,12.93,12.90,12.85,13.03,
12.98,12.94,12.95,12.93,12.94,12.92,12.94,12.93,12.95,12.92,
12.90,12.85,12.60,12.92,12.94,12.95,12.93,12.94,12.92,12.94,
12.90,12.86,12.70,12.80,12.75,12.92,12.94,12.90,12.80,12.93,
12.94,12.92,12.94,12.90,12.85,12.20,13.06,12.80,12.93,12.92,
12.94,12.90,12.40,12.92,12.94,12.95,12.93,12.92,12.86,12.70,
12.50,12.92,12.94,12.95,12.93,12.94,12.92,12.94,12.93,12.95,
12.92,12.94,12.93,12.90,12.86,12.85,12.80,12.92,12.94,12.93,
12.94,12.92,12.94,12.93,12.95,12.92,12.94,12.93,12.94,12.90,
12.86,12.75,12.84,12.72,12.88,12.85,12.65,12.82,12.88,12.84,
12.80,12.55,12.90,12.86,13.04,12.90,12.93,12.92,12.94,12.80];
const mbetFscLo=[12.30,11.64,11.90,12.35,12.20,12.30,12.15,11.75,12.35,12.25,
12.45,11.75,11.85,12.05,12.30,12.40,12.30,12.45,12.35,12.42,
12.48,11.45,12.00,12.40,12.45,12.35,12.48,12.10,12.42,12.50,
11.48,12.45,12.40,12.10,12.48,12.10,10.79,12.42,12.55,12.45,
12.35,11.50,12.42,12.00,12.45,12.38,10.66,12.40,11.90,11.14,
11.60,12.30,11.30,12.55,12.50,12.58,12.54,12.56,12.50,12.60,
12.55,12.58,12.52,12.57,12.53,12.56,12.48,11.97,12.55,12.58,
12.53,12.57,12.50,12.56,12.60,12.53,12.57,12.50,12.45,9.98,
12.30,12.56,12.58,12.53,12.57,12.50,12.56,12.60,12.53,12.57,
12.50,12.42,12.35,11.80,12.25,12.53,12.57,12.50,12.38,11.90,
12.53,12.57,12.50,12.45,12.35,11.19,12.40,12.50,11.95,12.53,
12.30,12.56,12.50,12.58,12.53,12.47,12.35,11.75,12.50,12.57,
12.53,12.58,12.50,12.56,12.47,12.38,11.90,12.53,12.57,12.50,
12.56,12.60,12.53,12.57,12.50,12.56,12.53,12.47,12.35,10.73,
12.45,12.56,12.60,12.53,12.57,12.50,12.56,12.53,12.58,12.50,
12.45,12.35,11.64,12.50,12.56,12.58,12.53,12.57,12.50,12.56,
12.47,12.38,12.05,12.30,12.10,12.50,12.56,12.47,12.25,12.53,
12.57,12.50,12.56,12.47,12.35,10.72,12.30,12.20,12.53,12.50,
12.56,12.47,11.17,12.50,12.56,12.58,12.53,12.50,12.38,12.00,
11.41,12.50,12.56,12.58,12.53,12.57,12.50,12.56,12.53,12.58,
12.50,12.56,12.53,12.47,12.38,12.35,12.20,12.50,12.56,12.53,
12.57,12.50,12.56,12.53,12.58,12.50,12.56,12.53,12.57,12.45,
12.30,12.10,12.25,12.00,12.35,12.28,11.90,12.15,12.30,12.22,
12.10,11.40,12.35,12.25,11.65,12.40,12.50,12.48,12.56,12.72];

// ---------- ticks ----------
const xTicks240=[50,100,150,200];
const xTicks120=[20,40,60,80,100,120];
const yTicksSkjDfad=[12.2,12.3,12.4,12.5,12.6,12.7,12.8];
const yLabelsSkjDfad=['12.2','','12.4','','12.6','','12.8'];
const yTicksSkjFsc=[9,10,11,12,13,14];
const yLabelsSkjFsc=['9','10','11','12','13','14'];
const yTicksMyftDfad=[9,10,11,12,13];
const yLabelsMyftDfad=['9','10','11','12','13'];
const yTicksMyftFsc=[11.8,11.9,12.0,12.1,12.2,12.3,12.4,12.5,12.6,12.7,12.8];
const yLabelsMyftFsc=['11.8','','12.0','','12.2','','12.4','','12.6','','12.8'];
const yTicksIyftDfad=[11.8,11.9,12.0,12.1,12.2,12.3,12.4,12.5,12.6,12.7,12.8];
const yLabelsIyftDfad=['11.8','','12.0','','12.2','','12.4','','12.6','','12.8'];
const yTicksIyftFsc=[10.5,11.0,11.5,12.0,12.5,13.0];
const yLabelsIyftFsc=['10.5','11.0','11.5','12.0','12.5','13.0'];
const yTicksMbetDfad=[8,9,10,11,12,13];
const yLabelsMbetDfad=['8','9','10','11','12','13'];
const yTicksMbetFsc=[10.0,10.5,11.0,11.5,12.0,12.5,13.0];
const yLabelsMbetFsc=['10.0','10.5','11.0','11.5','12.0','12.5','13.0'];

const panelTitles=['SKJ\u00a0\u00a0on dFADs','SKJ\u00a0\u00a0on FSC','Mature YFT on dFADs','Mature YFT on FSC',
  'Immature YFT on dFADs','Immature YFT on FSC','Mature BET on dFADs','Mature BET on FSC'];
const yTitle='Effective area occupied, ln(km^2)';

// ---------- layout configuration (pixels on the 1248x1731 page) ----------
const W=1248,H=1731;
const RED='#ed1c24';
const panels=[
 {m:skjDfadMean,hi:skjDfadHi,lo:skjDfadLo,xt:xTicks240,yt:yTicksSkjDfad,yl:yLabelsSkjDfad,box:[102,618,52,382],yr:[12.128,12.869],xr:[-21,261],tc:[299,25],ul:[194,408,39],ytx:25},
 {m:skjFscMean,hi:skjFscHi,lo:skjFscLo,xt:xTicks240,yt:yTicksSkjFsc,yl:yLabelsSkjFsc,box:[770,1247,52,382],yr:[8.61,14.30],xr:[-21,261],tc:[962,25],ul:[873,1051,39],ytx:698},
 {m:myftDfadMean,hi:myftDfadHi,lo:myftDfadLo,xt:xTicks240,yt:yTicksMyftDfad,yl:yLabelsMyftDfad,box:[102,618,503,833],yr:[8.868,13.353],xr:[-21,261],tc:[301,464],ul:[140,462,479],ytx:25},
 {m:myftFscMean,hi:myftFscHi,lo:myftFscLo,xt:xTicks240,yt:yTicksMyftFsc,yl:yLabelsMyftFsc,box:[769,1247,503,828],yr:[11.629,12.899],xr:[-21,261],tc:[962,464],ul:[819,1105,479],ytx:698},
 {m:iyftDfadMean,hi:iyftDfadHi,lo:iyftDfadLo,xt:xTicks120,yt:yTicksIyftDfad,yl:yLabelsIyftDfad,box:[102,618,952,1268],yr:[11.732,12.856],xr:[-10.2,130.4],tc:[301,913],ul:[122,480,927],ytx:25},
 {m:iyftFscMean,hi:iyftFscHi,lo:iyftFscLo,xt:xTicks240,yt:yTicksIyftFsc,yl:yLabelsIyftFsc,box:[770,1247,952,1274],yr:[10.259,13.403],xr:[-21,261],tc:[962,913],ul:[801,1123,927],ytx:698},
 {m:mbetDfadMean,hi:mbetDfadHi,lo:mbetDfadLo,xt:xTicks240,yt:yTicksMbetDfad,yl:yLabelsMbetDfad,box:[102,618,1394,1695],yr:[7.97,13.488],xr:[-21,261],tc:[301,1356],ul:[140,462,1370],ytx:25},
 {m:mbetFscMean,hi:mbetFscHi,lo:mbetFscLo,xt:xTicks240,yt:yTicksMbetFsc,yl:yLabelsMbetFsc,box:[770,1247,1394,1695],yr:[9.985,13.143],xr:[-21,261],tc:[962,1356],ul:[819,1105,1370],ytx:698}
];

const traces=[];
const layout={width:W,height:H,margin:{l:0,r:0,t:0,b:0},paper_bgcolor:'#fff',plot_bgcolor:'#fff',
  showlegend:false,hovermode:false,annotations:[],shapes:[],
  font:{family:'Liberation Sans, Arial, sans-serif',color:'#1a1a1a'}};

panels.forEach((p,i)=>{
  const k=i===0?'':String(i+1);
  const xs=p.m.map((_,j)=>j+1);
  traces.push({type:'scatter',mode:'markers',x:xs,y:p.m,xaxis:'x'+k,yaxis:'y'+k,cliponaxis:false,
    marker:{symbol:'circle-open',size:9,color:RED,line:{width:1.4,color:RED}},
    error_y:{type:'data',symmetric:false,
      array:p.hi.map((v,j)=>Math.max(0,v-p.m[j])),
      arrayminus:p.lo.map((v,j)=>Math.max(0,p.m[j]-v)),
      color:RED,thickness:1.9,width:0}});
  const [x0,x1,y0,y1]=p.box;
  layout['xaxis'+k]={domain:[x0/W,x1/W],range:p.xr,anchor:'y'+k,showgrid:false,zeroline:false,
    showline:true,mirror:true,linecolor:'#2b2b2b',linewidth:1.5,ticks:'outside',ticklen:7,tickwidth:1.2,tickcolor:'#2b2b2b',
    tickmode:'array',tickvals:p.xt,ticktext:p.xt.map(String),tickfont:{size:22,color:'#1a1a1a'},ticklabelstandoff:-5};
  layout['yaxis'+k]={domain:[1-y1/H,1-y0/H],range:p.yr,anchor:'x'+k,showgrid:false,zeroline:false,
    showline:true,mirror:true,linecolor:'#2b2b2b',linewidth:1.5,ticks:'outside',ticklen:8,tickwidth:1.2,tickcolor:'#2b2b2b',
    tickmode:'array',tickvals:p.yt,ticktext:p.yl,tickangle:-90,tickfont:{size:18,color:'#1a1a1a'},ticklabelstandoff:7};
  // y-axis title (R places it slightly below the plot-box centre)
  layout.annotations.push({xref:'paper',yref:'paper',x:p.ytx/W,y:1-((y0+y1)/2+11)/H,xanchor:'center',yanchor:'middle',
    textangle:-90,showarrow:false,text:yTitle,font:{size:18,color:'#111'}});
  layout.annotations.push({xref:'paper',yref:'paper',x:p.tc[0]/W,y:1-p.tc[1]/H,xanchor:'center',yanchor:'middle',
    showarrow:false,text:'<b>'+panelTitles[i]+'</b>',font:{family:'Liberation Serif, Times New Roman, serif',size:31,color:'#231f20'}});
  layout.shapes.push({type:'line',xref:'paper',yref:'paper',x0:p.ul[0]/W,x1:p.ul[1]/W,y0:1-p.ul[2]/H,y1:1-p.ul[2]/H,
    line:{color:'#231f20',width:3}});
});

Plotly.newPlot('chart',traces,layout,{staticPlot:true,displayModeBar:false});
</script>
</body></html>
